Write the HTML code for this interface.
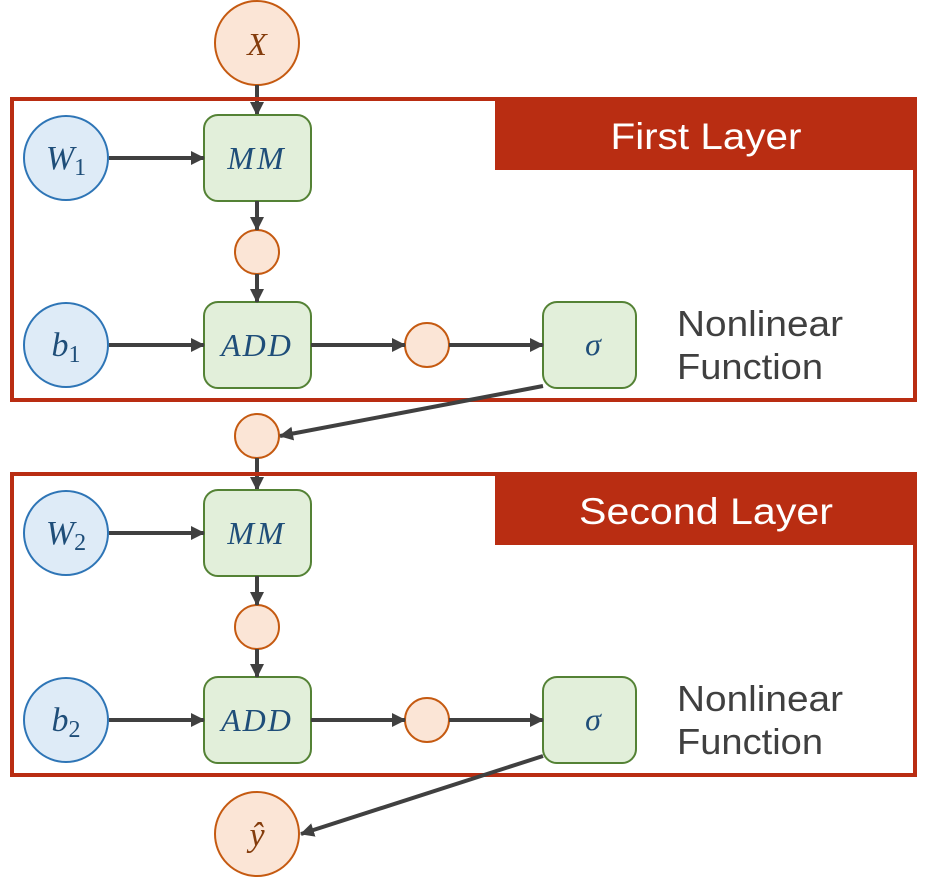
<!DOCTYPE html>
<html><head><meta charset="utf-8"><style>
html,body{margin:0;padding:0;background:#fff;width:931px;height:881px;overflow:hidden}
svg{display:block}
.m{font-family:"Liberation Serif",serif;font-style:italic;fill:#1f4e79}
.t{font-family:"Liberation Sans",sans-serif}
</style></head><body>
<svg width="931" height="881" viewBox="0 0 931 881" xmlns="http://www.w3.org/2000/svg">
<defs>
<marker id="a" markerWidth="14" markerHeight="14" refX="13" refY="7" orient="auto" markerUnits="userSpaceOnUse" viewBox="0 0 14 14">
<path d="M0,0 L14,7 L0,14 z" fill="#404040"/>
</marker>
<g id="layer">
<rect x="12" y="99" width="903" height="301" fill="none" stroke="#b92d12" stroke-width="4"/>
<circle cx="66" cy="158" r="42" fill="#deebf7" stroke="#2e75b6" stroke-width="2"/>
<circle cx="66" cy="345" r="42" fill="#deebf7" stroke="#2e75b6" stroke-width="2"/>
<rect x="204" y="115" width="107" height="86" rx="14" fill="#e2efda" stroke="#548235" stroke-width="2"/>
<rect x="204" y="302" width="107" height="86" rx="14" fill="#e2efda" stroke="#548235" stroke-width="2"/>
<rect x="543" y="302" width="93" height="86" rx="14" fill="#e2efda" stroke="#548235" stroke-width="2"/>
<circle cx="257" cy="252" r="22" fill="#fbe5d6" stroke="#c55a11" stroke-width="2"/>
<circle cx="427" cy="345" r="22" fill="#fbe5d6" stroke="#c55a11" stroke-width="2"/>
<line x1="109" y1="158" x2="204" y2="158" stroke="#404040" stroke-width="4" marker-end="url(#a)"/>
<line x1="109" y1="345" x2="204" y2="345" stroke="#404040" stroke-width="4" marker-end="url(#a)"/>
<line x1="311" y1="345" x2="405" y2="345" stroke="#404040" stroke-width="4" marker-end="url(#a)"/>
<line x1="449" y1="345" x2="543" y2="345" stroke="#404040" stroke-width="4" marker-end="url(#a)"/>
<line x1="257" y1="201" x2="257" y2="230" stroke="#404040" stroke-width="4" marker-end="url(#a)"/>
<line x1="257" y1="274" x2="257" y2="302" stroke="#404040" stroke-width="4" marker-end="url(#a)"/>
<text x="257" y="169" font-size="32" class="m" text-anchor="middle" letter-spacing="3">MM</text>
<text x="257" y="356" font-size="32" class="m" text-anchor="middle" letter-spacing="2">ADD</text>
<text x="593" y="355" font-size="32" class="m" text-anchor="middle">σ</text>
<text x="677" y="336" font-size="36" class="t" fill="#404040" textLength="166" lengthAdjust="spacingAndGlyphs">Nonlinear</text>
<text x="677" y="379" font-size="36" class="t" fill="#404040" textLength="146" lengthAdjust="spacingAndGlyphs">Function</text>
</g>
</defs>
<circle cx="257" cy="43" r="42" fill="#fbe5d6" stroke="#c55a11" stroke-width="2"/>
<text x="257" y="55" font-size="32" class="m" text-anchor="middle" style="fill:#843c0c">X</text>
<line x1="257" y1="85" x2="257" y2="115" stroke="#404040" stroke-width="4" marker-end="url(#a)"/>

<use href="#layer"/>
<rect x="495" y="97" width="422" height="73" fill="#b92d12"/>
<text x="706" y="149" font-size="37" class="t" fill="#fff" text-anchor="middle" textLength="191" lengthAdjust="spacingAndGlyphs">First Layer</text>
<text x="66" y="169" font-size="34" class="m" text-anchor="middle">W<tspan font-size="24" font-style="normal" dy="6">1</tspan></text>
<text x="66" y="356" font-size="34" class="m" text-anchor="middle">b<tspan font-size="24" font-style="normal" dy="6">1</tspan></text>

<circle cx="257" cy="436" r="22" fill="#fbe5d6" stroke="#c55a11" stroke-width="2"/>
<line x1="543" y1="386" x2="280" y2="436" stroke="#404040" stroke-width="4" marker-end="url(#a)"/>
<line x1="257" y1="458" x2="257" y2="490" stroke="#404040" stroke-width="4" marker-end="url(#a)"/>

<g transform="translate(0,375)">
<use href="#layer"/>
<rect x="495" y="97" width="422" height="73" fill="#b92d12"/>
<text x="706" y="149" font-size="37" class="t" fill="#fff" text-anchor="middle" textLength="254" lengthAdjust="spacingAndGlyphs">Second Layer</text>
<text x="66" y="169" font-size="34" class="m" text-anchor="middle">W<tspan font-size="24" font-style="normal" dy="6">2</tspan></text>
<text x="66" y="356" font-size="34" class="m" text-anchor="middle">b<tspan font-size="24" font-style="normal" dy="6">2</tspan></text>
</g>

<circle cx="257" cy="834" r="42" fill="#fbe5d6" stroke="#c55a11" stroke-width="2"/>
<text x="257" y="846" font-size="34" class="m" text-anchor="middle" style="fill:#843c0c">ŷ</text>
<line x1="543" y1="756" x2="301" y2="834" stroke="#404040" stroke-width="4" marker-end="url(#a)"/>
</svg>
</body></html>
